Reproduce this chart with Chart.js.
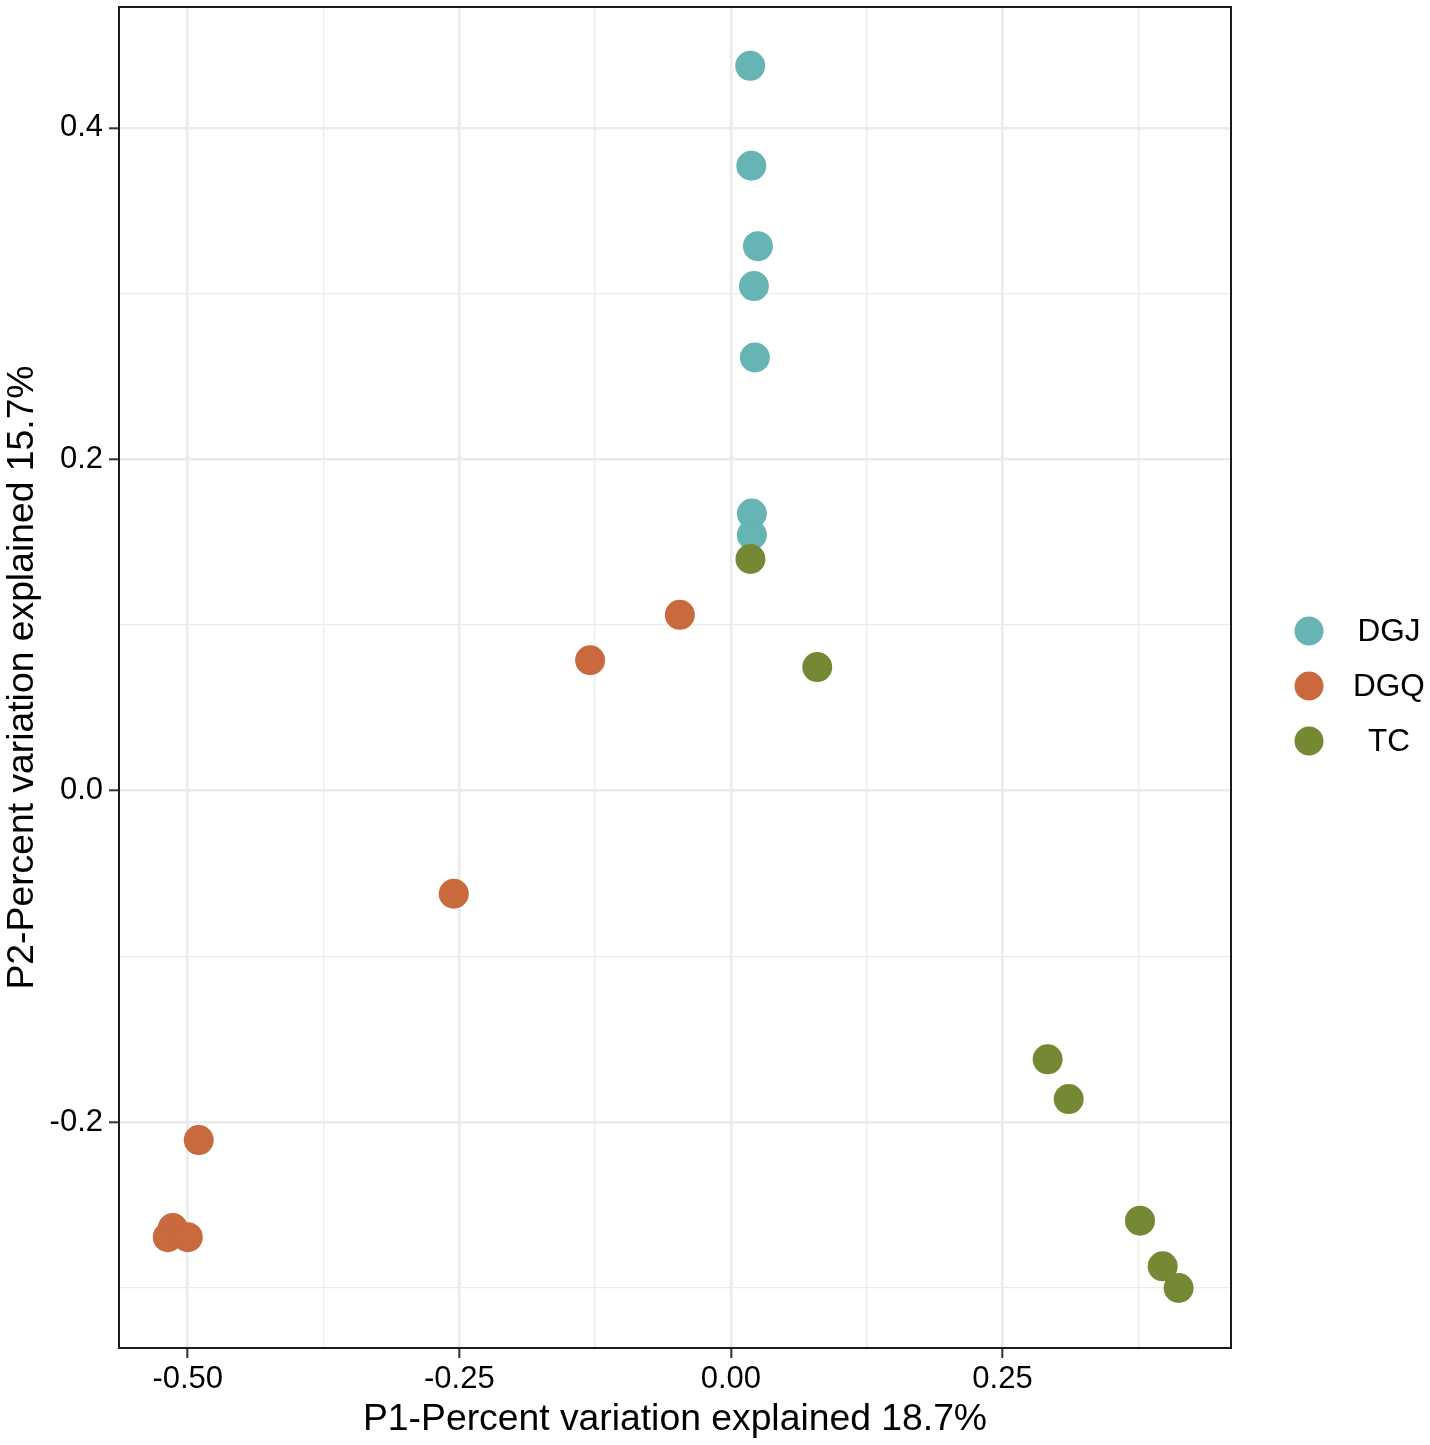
<!DOCTYPE html>
<html lang="en">
<head>
  <meta charset="UTF-8">
  <title>PCA - P1 vs P2</title>
  <script src="https://cdn.jsdelivr.net/npm/chart.js"></script>
  <style>
    html, body {
      margin: 0;
      padding: 0;
      background: #fff;
    }
    #wrap {
      width: 1430px;
      height: 1445px;
      position: relative;
    }
  </style>
</head>
<body>

<div id="wrap"><canvas id="pca"></canvas></div>

<script>
  const groups = ['DGJ', 'DGQ', 'TC'];
  const groupColors = ['#66b4b4', '#c86a3e', '#758934'];

  const dgjX = [0.0178, 0.0188, 0.0249, 0.0212, 0.0221, 0.0193, 0.0193];
  const dgjY = [0.4374, 0.3771, 0.3286, 0.3045, 0.2614, 0.1672, 0.1543];

  const dgqX = [-0.0470, -0.1296, -0.2551, -0.4899, -0.5138, -0.5184, -0.5000];
  const dgqY = [0.1061, 0.0787, -0.0622, -0.2108, -0.2639, -0.2694, -0.2694];

  const tcX = [0.0180, 0.0795, 0.2916, 0.3110, 0.3766, 0.3975, 0.4122];
  const tcY = [0.1398, 0.0746, -0.1621, -0.1861, -0.2595, -0.2870, -0.3001];

  const xTicks = [-0.5, -0.375, -0.25, -0.125, 0, 0.125, 0.25, 0.375];
  const xLabels = ['-0.50', '', '-0.25', '', '0.00', '', '0.25', ''];
  const yTicks = [-0.3, -0.2, -0.1, 0, 0.1, 0.2, 0.3, 0.4];
  const yLabels = ['', '-0.2', '', '0.0', '', '0.2', '', '0.4'];

  const xRange = [-0.5633, 0.4604];
  const yRange = [-0.3363, 0.4729];

  const FONT = '"Liberation Sans", Arial, sans-serif';

  function toPoints(xs, ys) {
    return xs.map((x, i) => ({ x: x, y: ys[i] }));
  }

  // panel border + legend (ggplot style, keys on the right)
  const panelAndLegend = {
    id: 'panelAndLegend',
    afterDraw(chart) {
      const ctx = chart.ctx;
      const a = chart.chartArea;
      ctx.save();
      ctx.strokeStyle = '#1a1a1a';
      ctx.lineWidth = 2;
      ctx.strokeRect(a.left, a.top, a.right - a.left, a.bottom - a.top);

      const midY = (a.top + a.bottom) / 2 + 8.5;
      ctx.font = '31.5px ' + FONT;
      ctx.textAlign = 'center';
      ctx.textBaseline = 'middle';
      groups.forEach((g, i) => {
        const y = midY + (i - 1) * 55;
        ctx.fillStyle = groupColors[i];
        ctx.beginPath();
        ctx.arc(a.right + 78, y, 14.5, 0, Math.PI * 2);
        ctx.fill();
        ctx.fillStyle = '#000';
        ctx.fillText(g, a.right + 158, y + 1);
      });
      ctx.restore();
    }
  };

  const ctx = document.getElementById('pca').getContext('2d');
  const chart = new Chart(ctx, {
    type: 'scatter',
    data: {
      datasets: [
        { label: 'DGJ', data: toPoints(dgjX, dgjY), backgroundColor: groupColors[0], order: 2 },
        { label: 'DGQ', data: toPoints(dgqX, dgqY), backgroundColor: groupColors[1], order: 1 },
        { label: 'TC', data: toPoints(tcX, tcY), backgroundColor: groupColors[2], order: 0 }
      ]
    },
    options: {
      responsive: true,
      maintainAspectRatio: false,
      animation: false,
      events: [],
      layout: { autoPadding: false, padding: { top: 7, right: 199, bottom: 0, left: 0 } },
      elements: {
        point: { radius: 15, borderWidth: 0, hoverRadius: 15 }
      },
      plugins: {
        legend: { display: false },
        tooltip: { enabled: false }
      },
      scales: {
        x: {
          type: 'linear',
          min: xRange[0],
          max: xRange[1],
          afterBuildTicks: s => { s.ticks = xTicks.map(v => ({ value: v })); },
          afterFit: s => { s.height = 97; s.paddingLeft = 0; s.paddingRight = 0; },
          border: { display: false },
          grid: {
            color: '#ebebeb',
            lineWidth: c => (xLabels[c.index] ? 2.6 : 1.3),
            tickLength: 10,
            tickWidth: 2,
            tickColor: c => (xLabels[c.index] ? '#333' : 'rgba(0,0,0,0)')
          },
          ticks: {
            autoSkip: false,
            maxRotation: 0,
            padding: 3,
            color: '#000',
            font: { size: 31, family: FONT },
            callback: (v, i) => xLabels[i]
          },
          title: {
            display: true,
            text: 'P1-Percent variation explained 18.7%',
            color: '#000',
            font: { size: 37.3, family: FONT },
            padding: { top: 0, bottom: 3 }
          }
        },
        y: {
          type: 'linear',
          min: yRange[0],
          max: yRange[1],
          afterBuildTicks: s => { s.ticks = yTicks.map(v => ({ value: v })); },
          afterFit: s => { s.width = 119; s.paddingTop = 0; s.paddingBottom = 0; },
          border: { display: false },
          grid: {
            color: '#ebebeb',
            lineWidth: c => (yLabels[c.index] ? 2.6 : 1.3),
            tickLength: 10,
            tickWidth: 2,
            tickColor: c => (yLabels[c.index] ? '#333' : 'rgba(0,0,0,0)')
          },
          ticks: {
            autoSkip: false,
            padding: 6,
            color: '#000',
            font: { size: 31, family: FONT },
            callback: (v, i) => yLabels[i]
          },
          title: {
            display: true,
            text: 'P2-Percent variation explained 15.7%',
            color: '#000',
            font: { size: 37.3, family: FONT },
            padding: { top: 0, bottom: 0 }
          }
        }
      }
    },
    plugins: [panelAndLegend]
  });
</script>

</body>
</html>
